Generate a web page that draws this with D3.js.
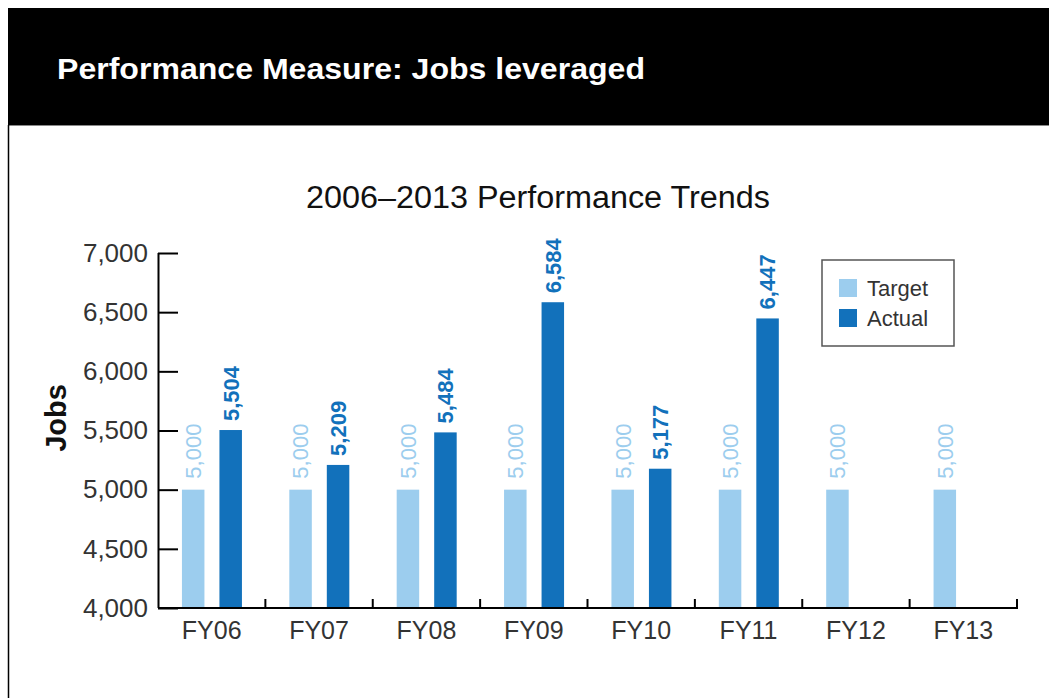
<!DOCTYPE html>
<html>
<head>
<meta charset="utf-8">
<script src="https://cdn.jsdelivr.net/npm/d3@7"></script>
<style>
  body { margin: 0; background: #fff; }
  svg { display: block; font-family: "Liberation Sans", Arial, Helvetica, sans-serif; }
</style>
</head>
<body>
<svg id="chart" width="1049" height="698"></svg>
<script>
const categories = ["FY06", "FY07", "FY08", "FY09", "FY10", "FY11", "FY12", "FY13"]
const target = [5000, 5000, 5000, 5000, 5000, 5000, 5000, 5000]
const actual = [5504, 5209, 5484, 6584, 5177, 6447, null, null]
const yTicks = [4000, 4500, 5000, 5500, 6000, 6500, 7000]

const svg = d3.select("#chart")

const lightBlue = "#9ccdee"
const darkBlue = "#1271bb"

// header band + frame
svg.append("rect").attr("x", 8).attr("y", 8).attr("width", 1041).attr("height", 117).attr("fill", "#000")
svg.append("line").attr("x1", 8).attr("x2", 1049).attr("y1", 125.5).attr("y2", 125.5).attr("stroke", "#888").attr("stroke-width", 1)
svg.append("line").attr("x1", 8.5).attr("x2", 8.5).attr("y1", 125).attr("y2", 698).attr("stroke", "#000").attr("stroke-width", 1.5)

svg.append("text")
    .attr("x", 57).attr("y", 79)
    .attr("fill", "#fff")
    .attr("textLength", 588)
    .attr("lengthAdjust", "spacingAndGlyphs")
    .style("font-size", "29px")
    .style("font-weight", "bold")
    .text("Performance Measure: Jobs leveraged")

svg.append("text")
    .attr("x", 306).attr("y", 208)
    .attr("fill", "#111")
    .attr("textLength", 464)
    .attr("lengthAdjust", "spacingAndGlyphs")
    .style("font-size", "31px")
    .text("2006\u20132013 Performance Trends")

const x0 = 158, x1 = 1017, yTop = 253, yBot = 608

const x = d3.scaleBand().domain(categories).range([x0, x1]).padding(0)
const y = d3.scaleLinear().domain([4000, 7000]).range([yBot, yTop])

const barW = 22.5
const offT = -18.5, offA = 19

// bars
const g = svg.append("g")

g.selectAll(".target")
    .data(categories)
    .enter()
    .append("rect")
    .attr("x", (d, i) => x(d) + x.bandwidth() / 2 + offT - barW / 2)
    .attr("y", (d, i) => y(target[i]))
    .attr("width", barW)
    .attr("height", (d, i) => y(4000) - y(target[i]))
    .attr("fill", lightBlue)

g.selectAll(".actual")
    .data(categories.filter((d, i) => actual[i] != null))
    .enter()
    .append("rect")
    .attr("x", d => x(d) + x.bandwidth() / 2 + offA - barW / 2)
    .attr("y", (d, i) => y(actual[i]))
    .attr("width", barW)
    .attr("height", (d, i) => y(4000) - y(actual[i]))
    .attr("fill", darkBlue)

// value labels
g.selectAll(".tlabel")
    .data(categories)
    .enter()
    .append("text")
    .attr("transform", (d, i) => `translate(${x(d) + x.bandwidth() / 2 + offT},${y(target[i]) - 11}) rotate(-90)`)
    .attr("dy", "0.36em")
    .attr("fill", lightBlue)
    .style("font-size", "22px")
    .text((d, i) => d3.format(",")(target[i]))

g.selectAll(".alabel")
    .data(categories.filter((d, i) => actual[i] != null))
    .enter()
    .append("text")
    .attr("transform", (d, i) => `translate(${x(d) + x.bandwidth() / 2 + offA},${y(actual[i]) - 9}) rotate(-90)`)
    .attr("dy", "0.36em")
    .attr("fill", darkBlue)
    .style("font-size", "22px")
    .style("font-weight", "bold")
    .text((d, i) => d3.format(",")(actual[i]))

// y axis
const yAxis = svg.append("g")
    .attr("transform", `translate(${x0},0)`)
    .call(d3.axisRight(y).tickValues(yTicks).tickSize(20).tickFormat(d3.format(",")))
yAxis.select(".domain").attr("stroke", "#000").attr("stroke-width", 2).attr("d", `M0.5,${yTop}V${yBot}`)
yAxis.selectAll(".tick line").attr("stroke", "#000").attr("stroke-width", 2)
yAxis.selectAll(".tick text")
    .attr("x", -10)
    .attr("text-anchor", "end")
    .attr("fill", "#333")
    .style("font-size", "26px")
    .style("font-family", "'Liberation Sans', Arial, sans-serif")

// x axis
const xAxis = svg.append("g")
    .attr("transform", `translate(0,${yBot})`)
xAxis.append("line")
    .attr("x1", x0).attr("x2", x1 + 1)
    .attr("stroke", "#000").attr("stroke-width", 2)
xAxis.selectAll(".xt")
    .data(categories)
    .enter()
    .append("line")
    .attr("x1", d => x(d) + x.bandwidth()).attr("x2", d => x(d) + x.bandwidth())
    .attr("y1", 0).attr("y2", -9)
    .attr("stroke", "#000").attr("stroke-width", 2)
xAxis.selectAll(".xl")
    .data(categories)
    .enter()
    .append("text")
    .attr("x", d => x(d) + x.bandwidth() / 2)
    .attr("y", 31)
    .attr("text-anchor", "middle")
    .attr("fill", "#333")
    .style("font-size", "25px")
    .text(d => d)

// y label
svg.append("text")
    .attr("transform", "translate(56,418) rotate(-90)")
    .attr("text-anchor", "middle")
    .attr("dy", "0.36em")
    .attr("fill", "#111")
    .style("font-size", "29px")
    .style("font-weight", "bold")
    .text("Jobs")

// legend
const legend = svg.append("g")
legend.append("rect")
    .attr("x", 822).attr("y", 260).attr("width", 132).attr("height", 86)
    .attr("fill", "#fff").attr("stroke", "#555").attr("stroke-width", 1.5)
const legendItems = [["Target", lightBlue], ["Actual", darkBlue]]
legend.selectAll(".sw")
    .data(legendItems)
    .enter()
    .append("rect")
    .attr("x", 839).attr("y", (d, i) => 279 + i * 30)
    .attr("width", 18).attr("height", 18)
    .attr("fill", d => d[1])
legend.selectAll(".lt")
    .data(legendItems)
    .enter()
    .append("text")
    .attr("x", 867).attr("y", (d, i) => 296 + i * 30)
    .attr("fill", "#333")
    .style("font-size", "22px")
    .text(d => d[0])
</script>
</body>
</html>
